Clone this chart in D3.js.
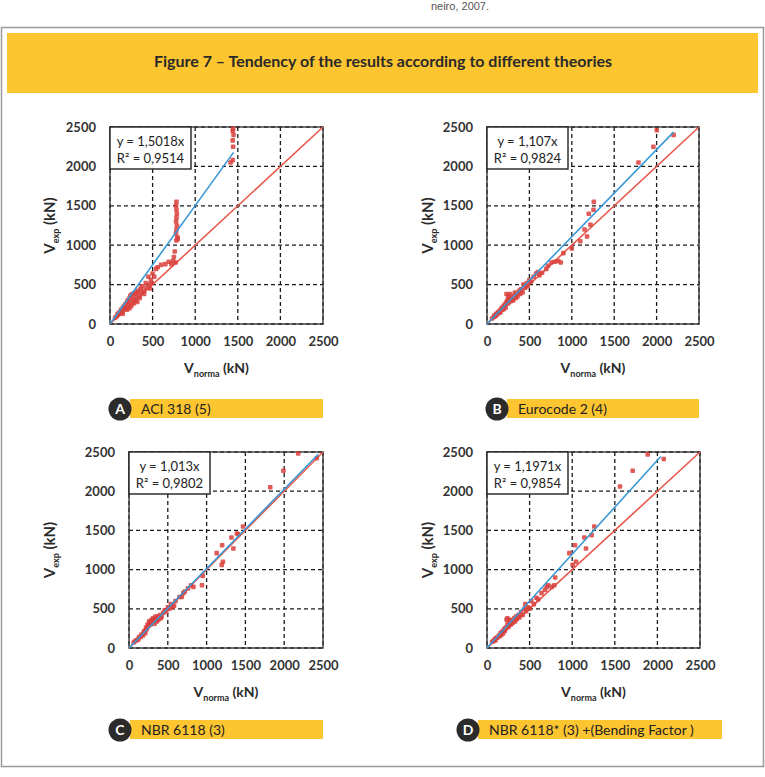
<!DOCTYPE html>
<html>
<head>
<meta charset="utf-8">
<script src="https://cdn.jsdelivr.net/npm/d3@7/dist/d3.min.js"></script>
<style>
body { margin: 0; background: #fff; }
svg { display: block; }
</style>
</head>
<body>
<div id="chart"></div>
<script>
// tick values shared by all four plots (kN)
var ticks = [0, 500, 1000, 1500, 2000, 2500];

var panelLetters = ["A", "B", "C", "D"];
var captions = ["ACI 318 (5)", "Eurocode 2 (4)", "NBR 6118 (3)", "NBR 6118* (3) +(Bending Factor )"];
var slopes = [1.5018, 1.107, 1.013, 1.1971];
var slopeLabels = ["1,5018", "1,107", "1,013", "1,1971"];
var r2Labels = ["0,9514", "0,9824", "0,9802", "0,9854"];
var fitEnds = [1450, 2200, 2440, 2040];

// [Vnorma, Vexp]
var pointsA = [
	[60,80],[80,100],[90,130],[100,120],[110,150],[120,140],[130,180],[140,160],[150,200],[150,130],
	[160,220],[170,190],[180,250],[190,210],[200,280],[200,180],[210,300],[220,240],[230,330],[230,200],
	[240,360],[250,280],[250,230],[260,380],[270,320],[280,260],[290,390],[300,350],[300,300],[310,400],
	[320,280],[330,420],[340,360],[350,330],[360,450],[370,400],[380,480],[400,420],[400,380],[420,520],
	[430,460],[450,600],[460,500],[470,450],[480,560],[490,520],[500,640],[520,600],[540,700],[560,720],
	[600,750],[650,760],[690,790],[720,760],[740,800],[750,850],[760,920],[770,780],
	[780,1060],[795,1080],[790,1100],[775,1150],[780,1200],[785,1250],[775,1300],[780,1350],[785,1400],
	[780,1450],[775,1500],[780,1550],
	[1415,2050],[1440,2080],[1445,2250],[1440,2330],[1450,2400],[1440,2450],[1445,2480]
];
var pointsB = [
	[60,70],[80,90],[90,110],[100,100],[110,130],[120,120],[130,150],[140,140],[150,170],[160,150],
	[170,200],[180,180],[190,220],[200,190],[210,250],[220,210],[230,280],[230,380],[240,300],[250,260],
	[250,350],[260,320],[270,380],[280,290],[290,340],[300,320],[310,300],[320,360],[330,400],[340,330],
	[350,380],[360,350],[380,420],[390,380],[400,440],[420,400],[430,500],[450,460],[470,520],[480,480],
	[500,560],[520,540],[550,600],[580,640],[600,660],[620,620],[650,650],[700,700],[720,740],[760,780],
	[800,790],[840,800],[870,780],[900,900],[1000,960],
	[1100,1050],[1180,1110],[1150,1200],[1220,1260],[1200,1400],[1256,1450],[1260,1550],
	[1786,2050],[1962,2250],[2002,2460],[2200,2400]
];
var pointsC = [
	[60,70],[80,90],[100,100],[120,110],[130,140],[150,140],[160,170],[180,160],[190,200],[200,220],
	[210,190],[220,260],[230,240],[240,300],[250,280],[260,340],[270,320],[280,300],[290,360],[300,340],
	[310,380],[320,350],[330,310],[340,400],[350,370],[360,340],[370,400],[380,360],[400,420],[410,380],
	[420,400],[440,450],[460,480],[480,460],[500,520],[520,500],[540,560],[560,520],[580,540],[600,600],
	[650,650],[680,650],[700,700],[720,720],[760,760],[800,800],[830,780],[940,800],[950,920],
	[1130,1210],[1200,1310],[1210,1100],[1195,1060],[1320,1410],[1345,1270],[1390,1460],[1410,1450],
	[1470,1550],[1820,2050],[1990,2260],[2180,2480],[2420,2420]
];
var pointsD = [
	[60,80],[80,90],[90,110],[100,100],[110,130],[120,130],[140,160],[150,150],[160,190],[170,170],
	[180,210],[190,190],[200,240],[210,220],[220,260],[230,360],[240,300],[240,380],[250,270],[260,320],
	[270,360],[280,300],[290,340],[300,320],[320,380],[330,340],[340,400],[350,370],[370,420],[380,390],
	[400,460],[420,420],[440,500],[450,560],[460,470],[480,520],[500,500],[520,600],[550,560],[580,640],
	[600,620],[640,700],[680,740],[700,780],[720,800],[760,780],[790,800],[800,900],
	[966,1210],[1033,1310],[1045,1100],[1006,1060],[1142,1410],[1162,1270],[1228,1440],[1259,1550],
	[1561,2060],[1710,2260],[1886,2470],[2074,2410]
];
var panelPoints = [pointsA, pointsB, pointsC, pointsD];

var W = 765, H = 777;
var YELLOW = "#fdc530";
var FONT = "Lato, 'Open Sans', sans-serif";

// plot frames on the page
var frames = [
	{left: 110, right: 323, top: 127, bottom: 324, titleX: 50, badgeX: 120, barEnd: 323, capY: 409},
	{left: 487, right: 699, top: 127, bottom: 324, titleX: 428, badgeX: 497, barEnd: 699, capY: 409},
	{left: 129, right: 323, top: 452, bottom: 648, titleX: 50, badgeX: 120, barEnd: 323, capY: 730},
	{left: 487, right: 700, top: 452, bottom: 648, titleX: 428, badgeX: 468, barEnd: 722, capY: 730}
];

var svg = d3.select("#chart").append("svg")
	.attr("width", W)
	.attr("height", H);

svg.append("rect")
	.attr("width", W)
	.attr("height", H)
	.style("fill", "#fff");

// bit of the previous page's text
svg.append("text")
	.text("neiro, 2007.")
	.attr("x", 460)
	.attr("y", 10)
	.attr("text-anchor", "middle")
	.style("font-family", "'Liberation Sans', sans-serif")
	.style("font-size", "11px")
	.style("fill", "#555");

svg.append("rect")
	.attr("x", 1.5)
	.attr("y", 27.5)
	.attr("width", W - 3)
	.attr("height", 739)
	.style("fill", "none")
	.style("stroke", "#9a9a9a")
	.style("stroke-width", 1.5);

svg.append("rect")
	.attr("x", 7)
	.attr("y", 33)
	.attr("width", 751)
	.attr("height", 60)
	.style("fill", YELLOW);

svg.append("text")
	.text("Figure 7 \u2013 Tendency of the results according to different theories")
	.attr("x", 383)
	.attr("y", 67)
	.attr("text-anchor", "middle")
	.attr("textLength", 458)
	.attr("lengthAdjust", "spacingAndGlyphs")
	.style("font-family", FONT)
	.style("font-weight", "bold")
	.style("font-size", "16px")
	.style("fill", "#2a2a2a");

for (var p = 0; p < 4; p++)
{
	var f = frames[p];

	var x = d3.scaleLinear().domain([0, 2500]).range([f.left, f.right]);
	var y = d3.scaleLinear().domain([0, 2500]).range([f.bottom, f.top]);

	var g = svg.append("g").attr("class", "panel panel-" + panelLetters[p]);

	// dashed grid
	g.selectAll(".vgrid").data(ticks).enter().append("line")
		.attr("class", "vgrid")
		.attr("x1", function(d) { return x(d); })
		.attr("x2", function(d) { return x(d); })
		.attr("y1", f.top)
		.attr("y2", f.bottom)
		.style("stroke", "#1a1a1a")
		.style("stroke-width", 1.3)
		.style("stroke-dasharray", "4,3");

	g.selectAll(".hgrid").data(ticks).enter().append("line")
		.attr("class", "hgrid")
		.attr("x1", f.left)
		.attr("x2", f.right)
		.attr("y1", function(d) { return y(d); })
		.attr("y2", function(d) { return y(d); })
		.style("stroke", "#1a1a1a")
		.style("stroke-width", 1.3)
		.style("stroke-dasharray", "4,3");

	g.append("rect")
		.attr("x", f.left)
		.attr("y", f.top)
		.attr("width", f.right - f.left)
		.attr("height", f.bottom - f.top)
		.style("fill", "none")
		.style("stroke", "#3a3a3a")
		.style("stroke-width", 1.4);

	// axes
	var xAxis = g.append("g")
		.attr("transform", "translate(0," + f.bottom + ")")
		.call(d3.axisBottom(x).tickValues(ticks).tickFormat(d3.format("d")).tickSize(0).tickPadding(13));
	var yAxis = g.append("g")
		.attr("transform", "translate(" + f.left + ",0)")
		.call(d3.axisLeft(y).tickValues(ticks).tickFormat(d3.format("d")).tickSize(0).tickPadding(14));

	[xAxis, yAxis].forEach(function(a)
	{
		a.select(".domain").remove();
		a.selectAll("text")
			.style("font-family", FONT)
			.style("font-weight", "bold")
			.style("font-size", "13px")
			.style("fill", "#333");
	});

	// axis titles
	var xt = g.append("text")
		.attr("x", (f.left + f.right) / 2)
		.attr("y", f.bottom + 49)
		.attr("text-anchor", "middle")
		.style("font-family", FONT)
		.style("font-weight", "bold")
		.style("font-size", "14px")
		.style("fill", "#2a2a2a");
	xt.append("tspan").text("V");
	xt.append("tspan").text("norma").attr("dy", 4).style("font-size", "9px");
	xt.append("tspan").text(" (kN)").attr("dy", -4);

	var yt = g.append("text")
		.attr("transform", "translate(" + (f.titleX + 5) + "," + ((f.top + f.bottom) / 2) + ") rotate(-90)")
		.attr("text-anchor", "middle")
		.style("font-family", FONT)
		.style("font-weight", "bold")
		.style("font-size", "15px")
		.style("fill", "#2a2a2a");
	yt.append("tspan").text("V");
	yt.append("tspan").text("exp").attr("dy", 4).style("font-size", "9px");
	yt.append("tspan").text(" (kN)").attr("dy", -4);

	// y = x reference
	g.append("line")
		.attr("x1", x(0))
		.attr("y1", y(0))
		.attr("x2", x(2500))
		.attr("y2", y(2500))
		.style("stroke", "#e8584c")
		.style("stroke-width", 1.6);

	// points
	g.selectAll(".pt").data(panelPoints[p]).enter().append("rect")
		.attr("class", "pt")
		.attr("x", function(d) { return x(d[0]) - 2.3; })
		.attr("y", function(d) { return y(d[1]) - 2.3; })
		.attr("width", 4.6)
		.attr("height", 4.6)
		.attr("rx", 1)
		.style("fill", "#d9403c")
		.style("opacity", 0.85);

	// linear fit through origin
	g.append("line")
		.attr("x1", x(0))
		.attr("y1", y(0))
		.attr("x2", x(fitEnds[p]))
		.attr("y2", y(fitEnds[p] * slopes[p]))
		.style("stroke", "#3a98d6")
		.style("stroke-width", 1.6);

	// equation box
	g.append("rect")
		.attr("x", f.left)
		.attr("y", f.top)
		.attr("width", 81)
		.attr("height", 42)
		.style("fill", "#fff")
		.style("stroke", "#222")
		.style("stroke-width", 1.4);

	g.append("text")
		.text("y = " + slopeLabels[p] + "x")
		.attr("x", f.left + 40.5)
		.attr("y", f.top + 19)
		.attr("text-anchor", "middle")
		.style("font-family", FONT)
		.style("font-size", "13px")
		.style("fill", "#222");

	g.append("text")
		.text("R\u00b2 = " + r2Labels[p])
		.attr("x", f.left + 40.5)
		.attr("y", f.top + 36)
		.attr("text-anchor", "middle")
		.style("font-family", FONT)
		.style("font-size", "13px")
		.style("fill", "#222");

	// caption bar with letter badge
	g.append("rect")
		.attr("x", f.badgeX + 10)
		.attr("y", f.capY - 10)
		.attr("width", f.barEnd - f.badgeX - 10)
		.attr("height", 19)
		.style("fill", YELLOW);

	g.append("circle")
		.attr("cx", f.badgeX)
		.attr("cy", f.capY)
		.attr("r", 11.5)
		.style("fill", "#2b2b2b");

	g.append("text")
		.text(panelLetters[p])
		.attr("x", f.badgeX)
		.attr("y", f.capY + 5)
		.attr("text-anchor", "middle")
		.style("font-family", FONT)
		.style("font-weight", "bold")
		.style("font-size", "14px")
		.style("fill", "#fff");

	g.append("text")
		.text(captions[p])
		.attr("x", f.badgeX + 21)
		.attr("y", f.capY + 5)
		.style("font-family", FONT)
		.style("font-size", "14px")
		.style("fill", "#222");
}
</script>
</body>
</html>
